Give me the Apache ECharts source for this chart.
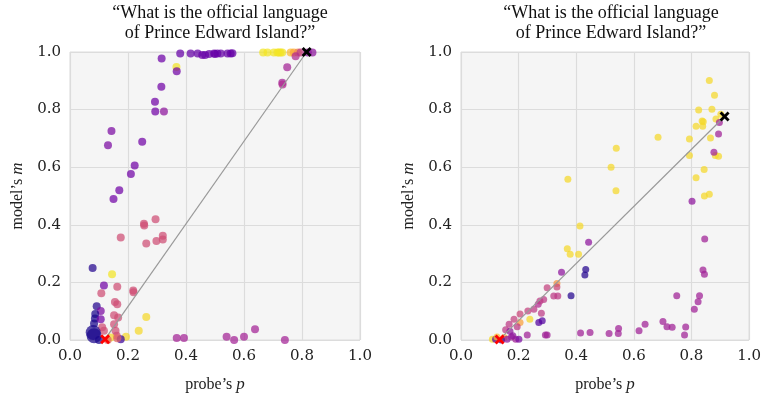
<!DOCTYPE html>
<html>
<head>
<meta charset="utf-8">
<script src="https://cdn.jsdelivr.net/npm/echarts@6/dist/echarts.min.js"></script>
<style>
  html, body { margin: 0; padding: 0; background: #fff; }
  #chart { width: 764px; height: 398px; }
</style>
</head>
<body>
<div id="chart"></div>
<script>
// [probe p, model m, colour value]
const leftPoints = [
  [0.38, 0.995, 0.19], [0.416, 0.995, 0.19], [0.44, 0.995, 0.19], [0.456, 0.99, 0.2], [0.466, 0.99, 0.19],
  [0.48, 0.993, 0.19], [0.497, 0.995, 0.19], [0.5, 0.993, 0.2], [0.508, 0.995, 0.19], [0.52, 0.995, 0.19],
  [0.543, 0.995, 0.19], [0.554, 0.995, 0.19], [0.56, 0.996, 0.19],
  [0.316, 0.977, 0.21], [0.367, 0.948, 0.95], [0.368, 0.933, 0.22], [0.315, 0.879, 0.22],
  [0.293, 0.827, 0.22], [0.294, 0.793, 0.22], [0.324, 0.793, 0.3], [0.143, 0.726, 0.25],
  [0.131, 0.676, 0.25], [0.249, 0.688, 0.22], [0.223, 0.606, 0.22], [0.21, 0.576, 0.22],
  [0.17, 0.52, 0.22], [0.15, 0.49, 0.22],
  [0.255, 0.404, 0.52], [0.256, 0.398, 0.52], [0.295, 0.419, 0.52], [0.175, 0.356, 0.52],
  [0.263, 0.335, 0.52], [0.298, 0.344, 0.52], [0.32, 0.362, 0.52], [0.32, 0.349, 0.52],
  [0.078, 0.25, 0.05], [0.145, 0.228, 0.95], [0.117, 0.189, 0.22], [0.163, 0.185, 0.52],
  [0.108, 0.162, 0.52], [0.218, 0.172, 0.52], [0.219, 0.166, 0.52],
  [0.092, 0.117, 0.05], [0.106, 0.101, 0.25], [0.155, 0.132, 0.52], [0.163, 0.124, 0.52],
  [0.152, 0.086, 0.52], [0.166, 0.078, 0.52],
  [0.263, 0.08, 0.92], [0.237, 0.032, 0.92], [0.193, 0.011, 0.92],
  [0.087, 0.09, 0.03], [0.083, 0.057, 0.03], [0.086, 0.075, 0.03], [0.106, 0.072, 0.22],
  [0.111, 0.044, 0.52], [0.117, 0.032, 0.52], [0.152, 0.055, 0.52], [0.157, 0.032, 0.52],
  [0.161, 0.015, 0.52], [0.175, 0.003, 0.1], [0.14, 0.009, 0.92], [0.163, 0.006, 0.6],
  [0.1, 0.0, 0.03], [0.13, 0.0, 0.6],
  [0.368, 0.007, 0.36], [0.393, 0.007, 0.36], [0.54, 0.011, 0.36], [0.566, 0.0, 0.36],
  [0.6, 0.011, 0.36], [0.638, 0.037, 0.36], [0.741, 0.0, 0.36],
  [0.666, 0.998, 0.95], [0.681, 0.998, 0.95], [0.703, 0.998, 0.95], [0.715, 0.998, 0.95],
  [0.72, 0.998, 0.95], [0.726, 0.998, 0.95], [0.732, 0.998, 0.95], [0.761, 0.998, 0.85],
  [0.772, 0.998, 0.8], [0.786, 0.998, 0.7], [0.795, 0.998, 0.45], [0.778, 0.985, 0.4],
  [0.82, 0.998, 0.3], [0.836, 0.998, 0.3],
  [0.749, 0.947, 0.36], [0.732, 0.893, 0.36], [0.733, 0.887, 0.4]
];
const leftHeavy = [[0.08, 0.026, 0.03], [0.083, 0.015, 0.03]];
const leftProbeMean = [0.121, 0.003];
const leftModelMean = [0.816, 1.0];

const rightPoints = [
  [0.862, 0.901, 0.92], [0.88, 0.85, 0.92], [0.871, 0.801, 0.92], [0.825, 0.799, 0.92],
  [0.837, 0.76, 0.92], [0.841, 0.758, 0.92], [0.839, 0.742, 0.92], [0.816, 0.742, 0.92],
  [0.885, 0.767, 0.92], [0.902, 0.784, 0.92], [0.866, 0.701, 0.92], [0.793, 0.698, 0.92],
  [0.684, 0.704, 0.92], [0.793, 0.641, 0.92], [0.883, 0.641, 0.92], [0.894, 0.638, 0.92],
  [0.844, 0.592, 0.92], [0.816, 0.563, 0.92], [0.845, 0.5, 0.92], [0.862, 0.506, 0.92],
  [0.539, 0.666, 0.92], [0.521, 0.6, 0.92], [0.538, 0.518, 0.92], [0.371, 0.558, 0.92],
  [0.413, 0.396, 0.92], [0.369, 0.317, 0.92], [0.379, 0.298, 0.92], [0.408, 0.298, 0.92],
  [0.333, 0.196, 0.75], [0.239, 0.072, 0.92], [0.205, 0.061, 0.78],
  [0.897, 0.755, 0.35], [0.894, 0.715, 0.35], [0.878, 0.652, 0.35], [0.802, 0.482, 0.3],
  [0.846, 0.351, 0.35], [0.84, 0.243, 0.35], [0.845, 0.228, 0.35], [0.828, 0.154, 0.35],
  [0.823, 0.133, 0.35], [0.81, 0.107, 0.35], [0.749, 0.154, 0.35], [0.78, 0.045, 0.35],
  [0.776, 0.017, 0.35], [0.701, 0.064, 0.35], [0.715, 0.046, 0.35], [0.733, 0.044, 0.35],
  [0.639, 0.055, 0.35], [0.618, 0.032, 0.35], [0.547, 0.04, 0.35], [0.546, 0.023, 0.35],
  [0.514, 0.023, 0.35], [0.448, 0.026, 0.35], [0.415, 0.024, 0.35], [0.293, 0.017, 0.35],
  [0.299, 0.017, 0.35], [0.23, 0.017, 0.35], [0.443, 0.339, 0.3], [0.349, 0.235, 0.3],
  [0.433, 0.245, 0.05], [0.43, 0.226, 0.05], [0.382, 0.154, 0.05],
  [0.299, 0.181, 0.48], [0.333, 0.184, 0.5], [0.322, 0.153, 0.45], [0.336, 0.153, 0.45],
  [0.287, 0.141, 0.45], [0.268, 0.124, 0.4], [0.274, 0.135, 0.45], [0.253, 0.107, 0.45],
  [0.27, 0.061, 0.15], [0.282, 0.067, 0.15], [0.279, 0.093, 0.45], [0.232, 0.101, 0.48],
  [0.205, 0.09, 0.5], [0.184, 0.072, 0.48], [0.167, 0.055, 0.45], [0.195, 0.046, 0.45],
  [0.155, 0.036, 0.45], [0.17, 0.03, 0.3],
  [0.109, 0.003, 0.92], [0.12, 0.003, 0.15], [0.15, 0.009, 0.8], [0.16, 0.003, 0.3],
  [0.175, 0.01, 0.35], [0.19, 0.003, 0.35], [0.201, 0.003, 0.25], [0.14, 0.0, 0.1],
  [0.125, 0.01, 0.85], [0.18, 0.015, 0.3]
];
const rightProbeMean = [0.134, 0.002];
const rightModelMean = [0.915, 0.776];

const titleText = '\u201cWhat is the official language\nof Prince Edward Island?\u201d';

const serif = '"Liberation Serif", "DejaVu Serif", serif';
const tickFont = '"DejaVu Serif", serif';
const plasma = ['#0d0887', '#6a00a8', '#b12a90', '#e16462', '#fca636', '#f0f921'];
const crossPath = 'path://M0,2 L2,0 L5,3 L8,0 L10,2 L7,5 L10,8 L8,10 L5,7 L2,10 L0,8 L3,5 Z';

const chart = echarts.init(document.getElementById('chart'));

function axis(gridIndex, kind) {
  const isX = kind === 'x';
  return {
    type: 'value',
    gridIndex: gridIndex,
    min: 0,
    max: 1,
    interval: 0.2,
    name: isX ? '{t|probe\u2019s }{i|p}' : '{t|model\u2019s }{i|m}',
    nameLocation: 'middle',
    nameGap: isX ? 36 : 44,
    nameTextStyle: {
      rich: {
        t: { fontFamily: serif, fontSize: 16, color: '#222' },
        i: { fontFamily: serif, fontSize: 17, fontStyle: 'italic', color: '#222' }
      }
    },
    axisLine: { show: false },
    axisTick: { show: false },
    axisLabel: {
      fontFamily: tickFont,
      fontSize: 15,
      color: '#222',
      margin: 9,
      formatter: v => v.toFixed(1)
    },
    splitLine: { show: true, lineStyle: { color: '#dcdcdc', width: 1.2 } }
  };
}

function scatter(idx, data, size) {
  return {
    type: 'scatter',
    xAxisIndex: idx,
    yAxisIndex: idx,
    data: data,
    symbolSize: size,
    itemStyle: { opacity: 0.72 },
    z: 2
  };
}

function meanLine(idx, a, b) {
  return {
    type: 'line',
    xAxisIndex: idx,
    yAxisIndex: idx,
    data: [a, b],
    showSymbol: false,
    symbol: 'none',
    lineStyle: { color: '#999', width: 1.2 },
    silent: true,
    z: 3
  };
}

function marker(idx, point, color) {
  return {
    type: 'scatter',
    xAxisIndex: idx,
    yAxisIndex: idx,
    data: [point],
    symbol: crossPath,
    symbolSize: 10,
    itemStyle: { color: color, opacity: 1 },
    z: 5
  };
}

const titleStyle = { fontFamily: serif, fontSize: 18, fontWeight: 'normal', color: '#111', lineHeight: 20 };

const option = {
  backgroundColor: '#fff',
  animation: false,
  title: [
    { text: titleText, left: 215, top: -2, textAlign: 'center', textStyle: titleStyle },
    { text: titleText, left: 606, top: -2, textAlign: 'center', textStyle: titleStyle }
  ],
  grid: [
    { left: 70, top: 52, width: 290, height: 291, show: true, backgroundColor: '#f5f5f5', borderColor: '#dcdcdc', borderWidth: 1 },
    { left: 461, top: 52, width: 290, height: 291, show: true, backgroundColor: '#f5f5f5', borderColor: '#dcdcdc', borderWidth: 1 }
  ],
  xAxis: [axis(0, 'x'), axis(1, 'x')],
  yAxis: [axis(0, 'y'), axis(1, 'y')],
  visualMap: {
    show: false,
    type: 'continuous',
    dimension: 2,
    min: 0,
    max: 1,
    seriesIndex: [0, 1, 2],
    inRange: { color: plasma }
  },
  series: [
    scatter(0, leftPoints, 8),
    scatter(0, leftHeavy, 15),
    scatter(1, rightPoints, 7),
    meanLine(0, leftProbeMean, leftModelMean),
    meanLine(1, rightProbeMean, rightModelMean),
    marker(0, leftProbeMean, '#ff0000'),
    marker(0, leftModelMean, '#000000'),
    marker(1, rightProbeMean, '#ff0000'),
    marker(1, rightModelMean, '#000000')
  ]
};

chart.setOption(option);
</script>
</body>
</html>
